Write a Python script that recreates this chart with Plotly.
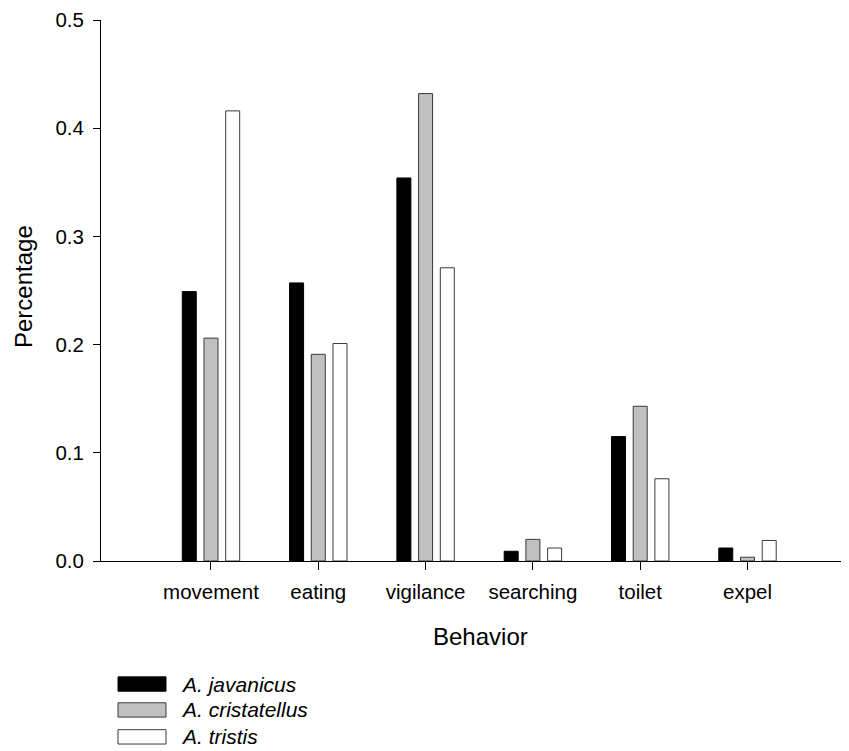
import plotly.graph_objects as go

behaviors = ["movement", "eating", "vigilance", "searching", "toilet", "expel"]
species = ["A. javanicus", "A. cristatellus", "A. tristis"]
javanicus = [0.249, 0.257, 0.354, 0.009, 0.115, 0.012]
cristatellus = [0.206, 0.191, 0.432, 0.020, 0.143, 0.0035]
tristis = [0.416, 0.201, 0.271, 0.012, 0.076, 0.019]
y_ticks = [0.0, 0.1, 0.2, 0.3, 0.4, 0.5]
fills = ["#000000", "#c0c0c0", "#ffffff"]
edges = ["#000000", "#3a3a3a", "#3a3a3a"]

FONT = "Liberation Sans, Arial, sans-serif"

# page geometry (the page body adds an 8px offset)
OFF = 8
PAGE_W, PAGE_H = 849, 751
PL, PR, PT, PB = 101, 849, 18, 561  # plot area in page pixels
W, H = PAGE_W - OFF, PAGE_H - OFF
L = PL - OFF
T = PT - OFF
R = PAGE_W - PR
B = PAGE_H - PB
pw, ph = PR - PL, PB - PT

def px(xp):
    return (xp - PL) / pw

def py(yp):
    return (PB - yp) / ph

fig = go.Figure()
for name, vals, fc, ec in zip(species, [javanicus, cristatellus, tristis], fills, edges):
    fig.add_trace(go.Bar(
        x=behaviors, y=vals, name=name,
        marker=dict(color=fc, line=dict(color=ec, width=1)),
        showlegend=False,
    ))

fig.update_layout(
    width=W, height=H,
    margin=dict(l=L, r=R, t=T, b=B, pad=0),
    paper_bgcolor="white", plot_bgcolor="white",
    barmode="group", bargap=0.393, bargroupgap=0.355,
    font=dict(family=FONT, color="black", size=20),
)
fig.update_xaxes(
    type="category", range=[-1.025, 5.946],
    showline=True, linecolor="black", linewidth=1,
    ticks="outside", ticklen=8, tickwidth=1, tickcolor="black",
    ticklabelstandoff=4,
    tickfont=dict(size=20.5, family=FONT), showgrid=False, zeroline=False,
)
fig.update_yaxes(
    range=[0, 0.5], tickvals=y_ticks, tickformat=".1f",
    showline=True, linecolor="black", linewidth=1,
    ticks="outside", ticklen=7, tickwidth=1, tickcolor="black",
    ticklabelstandoff=5, ticklabeloverflow="allow",
    tickfont=dict(size=20.5, family=FONT), showgrid=False, zeroline=False,
)

annotations = [
    dict(text="Percentage", x=px(23), y=py(286), xref="paper", yref="paper",
         textangle=-90, showarrow=False, xanchor="center", yanchor="middle",
         font=dict(size=24, family=FONT)),
    dict(text="Behavior", x=px(480.5), y=py(637), xref="paper", yref="paper",
         showarrow=False, xanchor="center", yanchor="middle",
         font=dict(size=24, family=FONT)),
]
shapes = []
legend_y = [684.5, 710.5, 737.5]
for name, fc, ec, yc in zip(species, fills, edges, legend_y):
    shapes.append(dict(type="rect", xref="paper", yref="paper",
                       x0=px(118), x1=px(166), y0=py(yc + 7.2), y1=py(yc - 7.2),
                       fillcolor=fc, line=dict(color=ec, width=1)))
    annotations.append(dict(text="<i>%s</i>" % name, x=px(179), y=py(yc),
                            xref="paper", yref="paper", showarrow=False,
                            xanchor="left", yanchor="middle",
                            font=dict(size=21, family=FONT)))
fig.update_layout(annotations=annotations, shapes=shapes)

fig.write_html("out.html")
